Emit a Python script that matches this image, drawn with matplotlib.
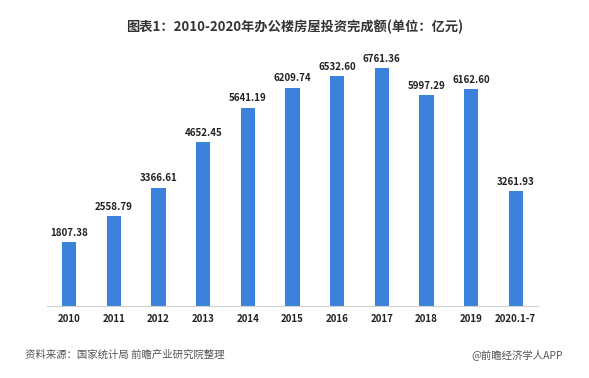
import matplotlib
matplotlib.use('Agg')
import matplotlib.pyplot as plt

plt.rcParams['font.family'] = ['Noto Sans CJK SC', 'DejaVu Sans']

years = ['2010', '2011', '2012', '2013', '2014', '2015', '2016', '2017', '2018', '2019', '2020.1-7']
values = [1807.38, 2558.79, 3366.61, 4652.45, 5641.19, 6209.74, 6532.60, 6761.36, 5997.29, 6162.60, 3261.93]

fig = plt.figure(figsize=(5.89, 3.78), dpi=100)
ax = fig.add_axes([47 / 589, 72 / 378, 491 / 589, 266 / 378])

x = range(len(years))
ax.bar(x, values, width=0.32, color='#3b82dd')
for i, v in zip(x, values):
    ax.text(i, v + 120, f'{v:.2f}', ha='center', va='bottom', fontsize=7, fontweight='bold', color='#222222')

ax.set_xlim(-0.5, len(years) - 0.5)
ax.set_ylim(0, 7560)
ax.set_xticks(list(x))
ax.set_xticklabels(years, fontsize=7, fontweight='bold', color='#222222')
ax.tick_params(axis='x', length=0, pad=6)
ax.set_yticks([])
for s in ['top', 'right', 'left']:
    ax.spines[s].set_visible(False)
ax.spines['bottom'].set_color('#d0d0d0')

fig.text(0.5, 1 - 27 / 378, '图表1：2010-2020年办公楼房屋投资完成额(单位：亿元)', ha='center', va='center',
         fontsize=9.5, fontweight='bold', color='#333333')
fig.text(25 / 589, 1 - 355 / 378, '资料来源：国家统计局 前瞻产业研究院整理', ha='left', va='center',
         fontsize=7.5, color='#555555')
fig.text(563 / 589, 1 - 355 / 378, '@前瞻经济学人APP', ha='right', va='center',
         fontsize=7.5, color='#555555')

fig.savefig('out.png', dpi=100)
